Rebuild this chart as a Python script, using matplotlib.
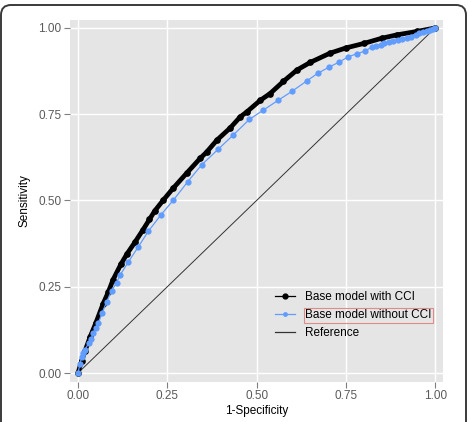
import matplotlib
matplotlib.use("Agg")
import matplotlib.pyplot as plt
from matplotlib.lines import Line2D
from matplotlib.patches import FancyBboxPatch, Rectangle
from matplotlib.transforms import IdentityTransform

plt.rcParams['font.family'] = ['Liberation Sans', 'DejaVu Sans']

# --- data ---
with_cci_x = [0, 0.01, 0.02, 0.034, 0.05, 0.07, 0.085, 0.098, 0.12, 0.137, 0.16, 0.182,
              0.2, 0.215, 0.238, 0.266, 0.305, 0.342, 0.36, 0.389, 0.426, 0.454, 0.473,
              0.51, 0.538, 0.575, 0.613, 0.65, 0.706, 0.75, 0.80, 0.85, 0.893, 0.95, 1.0]
with_cci_y = [0, 0.035, 0.065, 0.105, 0.145, 0.2, 0.235, 0.27, 0.315, 0.345, 0.38, 0.415,
              0.445, 0.47, 0.5, 0.535, 0.58, 0.622, 0.64, 0.675, 0.71, 0.742, 0.757,
              0.79, 0.81, 0.845, 0.878, 0.9, 0.927, 0.942, 0.955, 0.97, 0.98, 0.99, 1.0]

without_cci_x = [0, 0.005, 0.01, 0.015, 0.02, 0.03, 0.037, 0.043, 0.05, 0.057, 0.068, 0.08,
                 0.094, 0.108, 0.118, 0.141, 0.169, 0.197, 0.232, 0.267, 0.307, 0.346,
                 0.393, 0.435, 0.48, 0.519, 0.56, 0.6, 0.64, 0.672, 0.704, 0.731, 0.756,
                 0.78, 0.804, 0.823, 0.835, 0.848, 0.858, 0.87, 0.882, 0.895, 0.908, 0.92,
                 0.933, 0.945, 0.956, 0.966, 0.976, 0.985, 0.993, 1.0]
without_cci_y = [0, 0.025, 0.046, 0.058, 0.068, 0.087, 0.1, 0.115, 0.13, 0.145, 0.175, 0.206,
                 0.238, 0.262, 0.284, 0.322, 0.366, 0.411, 0.458, 0.501, 0.554, 0.603,
                 0.649, 0.69, 0.735, 0.762, 0.79, 0.817, 0.846, 0.869, 0.887, 0.901, 0.916,
                 0.925, 0.933, 0.945, 0.948, 0.952, 0.955, 0.958, 0.961, 0.964, 0.968, 0.971,
                 0.975, 0.98, 0.984, 0.988, 0.992, 0.995, 0.998, 1.0]

ref_x = [0, 1]
ref_y = [0, 1]

ticks = [0.0, 0.25, 0.5, 0.75, 1.0]
tick_labels = ["0.00", "0.25", "0.50", "0.75", "1.00"]
labels = ["Base model with CCI", "Base model without CCI", "Reference"]

black = "#000000"
blue = "#619CFF"
refcol = "#333333"

fig = plt.figure(figsize=(4.69, 4.22), dpi=100)
ax = fig.add_axes([70/469, 1 - 382/422, 373/469, 362/422])
ax.set_facecolor("#E5E5E5")
for s in ax.spines.values():
    s.set_visible(False)

ax.plot(ref_x, ref_y, color=refcol, lw=0.7, zorder=2)
ax.plot(with_cci_x, with_cci_y, color=black, lw=3.4, solid_capstyle='round',
        solid_joinstyle='round', marker='o', ms=3.8, zorder=3)
ax.plot(without_cci_x, without_cci_y, color=blue, lw=0.9, marker='o', ms=4.5,
        markeredgewidth=0, zorder=4)

ax.set_xlim(-0.0224, 1.022)
ax.set_ylim(-0.026, 1.023)
ax.set_xticks(ticks)
ax.set_xticklabels(tick_labels)
ax.set_yticks(ticks)
ax.set_yticklabels(tick_labels)
ax.grid(True, color="white", lw=1.0)
ax.set_axisbelow(True)
ax.tick_params(axis='both', length=4, width=0.8, color="#7F7F7F",
               labelcolor="#5A5A5A", labelsize=8.5, pad=2)
ax.set_xlabel("1-Specificity", fontsize=8.5, labelpad=2)
ax.set_ylabel("Sensitivity", fontsize=8.5, labelpad=6)

handles = [
    Line2D([], [], color=black, lw=0.9, marker='o', ms=3.5),
    Line2D([], [], color=blue, lw=0.9, marker='o', ms=3.5, markeredgewidth=0),
    Line2D([], [], color=refcol, lw=0.9),
]
leg = ax.legend(handles, labels, loc='upper left', bbox_to_anchor=(0.55, 0.25),
                frameon=False, fontsize=8.5, borderpad=0, handlelength=1.7,
                handletextpad=0.85, labelspacing=0.5, borderaxespad=0)

# outer rounded frame
frame = FancyBboxPatch((1, -30), 465, 422 - 5 + 30,
                       boxstyle="round,pad=0,rounding_size=10",
                       transform=IdentityTransform(), facecolor='none',
                       edgecolor="#3A3A3A", lw=1.4)
fig.patches.append(frame)

# thin reddish box around the second legend label
fig.canvas.draw()
bb = leg.get_texts()[1].get_window_extent()
box = Rectangle((bb.x0 - 1.5, bb.y0 - 1.5), bb.width + 3, bb.height + 3,
                transform=IdentityTransform(), facecolor='none',
                edgecolor="#E08A8A", lw=0.8)
fig.patches.append(box)

fig.savefig("out.png", dpi=100)
